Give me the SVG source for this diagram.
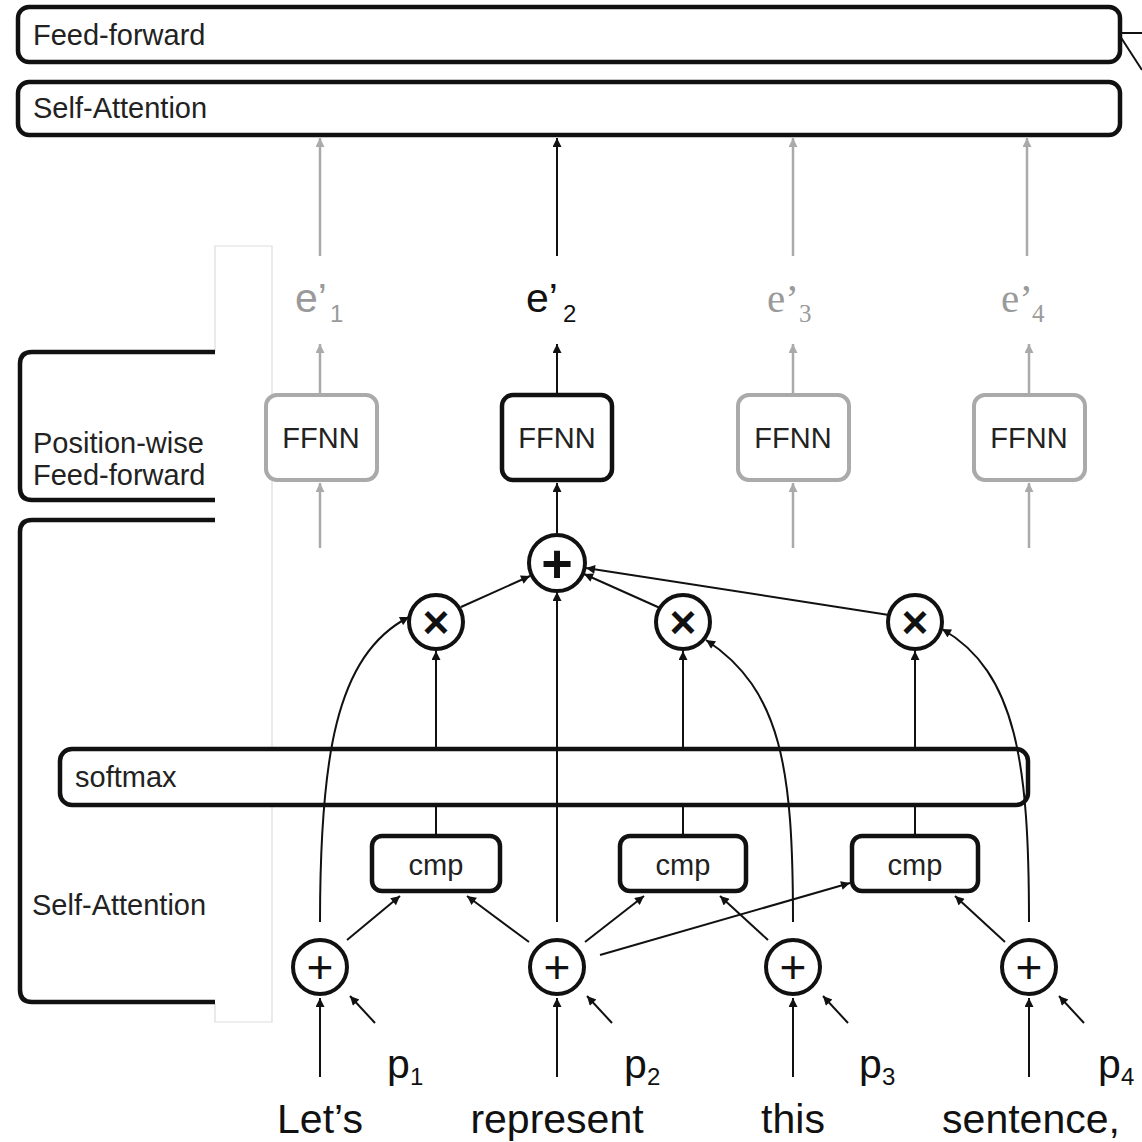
<svg xmlns="http://www.w3.org/2000/svg" width="1142" height="1142" viewBox="0 0 1142 1142">
<style>
.box{fill:#fff;stroke:#111;stroke-width:4.5}
.gbox{fill:#fff;stroke:#aaa;stroke-width:4}
.lbl{font-family:"Liberation Sans",Arial,sans-serif;font-size:29px;fill:#222}
.big{font-family:"Liberation Sans",Arial,sans-serif;font-size:41px;fill:#111}
.ser{font-family:"Liberation Serif","Times New Roman",serif}
.c{stroke:#111;stroke-width:2;fill:none}
.cg{stroke:#aaa;stroke-width:2.5;fill:none}
.op{fill:#fff;stroke:#111;stroke-width:4}
.sym{font-family:"Liberation Sans",Arial,sans-serif;fill:#111;text-anchor:middle;dominant-baseline:central}
.brk{fill:none;stroke:#111;stroke-width:4.5}
</style>
<defs>
<marker id="ah" viewBox="0 0 10 10" refX="10" refY="5" markerWidth="11" markerHeight="9" markerUnits="userSpaceOnUse" orient="auto"><path d="M0,0 L10,5 L0,10 z" fill="#111"/></marker>
<marker id="ahg" viewBox="0 0 10 10" refX="10" refY="5" markerWidth="11" markerHeight="9" markerUnits="userSpaceOnUse" orient="auto"><path d="M0,0 L10,5 L0,10 z" fill="#aaa"/></marker>
</defs>
<rect width="1142" height="1142" fill="#fff"/>

<!-- thin frame -->
<path d="M215 352 V246 H272 V749 M272 805 V1022 H215 V1004" fill="none" stroke="#ddd" stroke-width="1.2"/>

<!-- brackets -->
<g id="bracket-ffw">
<path class="brk" d="M215 352 H32 Q20 352 20 364 V488 Q20 500 32 500 H215"/>
<text class="lbl" x="33" y="453">Position-wise</text>
<text class="lbl" x="33" y="485">Feed-forward</text>
</g>
<g id="bracket-sa">
<path class="brk" d="M215 520 H32 Q20 520 20 532 V990 Q20 1002 32 1002 H215"/>
<text class="lbl" x="32" y="915">Self-Attention</text>
</g>

<g id="top-feedforward">
<rect class="box" x="18" y="7" width="1102" height="55" rx="11"/>
<text class="lbl" x="33" y="45">Feed-forward</text>
</g>
<g id="top-selfattention">
<rect class="box" x="18" y="82" width="1102" height="53" rx="11"/>
<text class="lbl" x="33" y="118">Self-Attention</text>
</g>

<g id="softmax"><rect class="box" x="60" y="749" width="968" height="56" rx="12" style="fill:none"/><text class="lbl" x="75" y="787">softmax</text></g>

<g id="connectors">
<path d="M1120 33 H1142 M1120 36 L1142 70" stroke="#111" stroke-width="2" fill="none"/>
<!-- gray columns -->
<line class="cg" x1="320" y1="256" x2="320" y2="138" marker-end="url(#ahg)"/>
<line class="cg" x1="793" y1="256" x2="793" y2="138" marker-end="url(#ahg)"/>
<line class="cg" x1="1027" y1="256" x2="1027" y2="138" marker-end="url(#ahg)"/>
<line class="cg" x1="320" y1="395" x2="320" y2="344" marker-end="url(#ahg)"/>
<line class="cg" x1="793" y1="395" x2="793" y2="344" marker-end="url(#ahg)"/>
<line class="cg" x1="1029" y1="395" x2="1029" y2="344" marker-end="url(#ahg)"/>
<line class="cg" x1="320" y1="548" x2="320" y2="483" marker-end="url(#ahg)"/>
<line class="cg" x1="793" y1="548" x2="793" y2="483" marker-end="url(#ahg)"/>
<line class="cg" x1="1029" y1="548" x2="1029" y2="483" marker-end="url(#ahg)"/>
<!-- black column -->
<line class="c" x1="557" y1="256" x2="557" y2="138" marker-end="url(#ah)"/>
<line class="c" x1="557" y1="395" x2="557" y2="344" marker-end="url(#ah)"/>
<line class="c" x1="557" y1="533" x2="557" y2="483" marker-end="url(#ah)"/>
<!-- into top plus -->
<line class="c" x1="461" y1="607" x2="530" y2="576" marker-end="url(#ah)"/>
<line class="c" x1="660" y1="608" x2="584" y2="574" marker-end="url(#ah)"/>
<line class="c" x1="889" y1="615" x2="586" y2="568" marker-end="url(#ah)"/>
<line class="c" x1="557" y1="922" x2="557" y2="592" marker-end="url(#ah)"/>
<!-- softmax to x -->
<line class="c" x1="436" y1="749" x2="436" y2="651" marker-end="url(#ah)"/>
<line class="c" x1="683" y1="749" x2="683" y2="651" marker-end="url(#ah)"/>
<line class="c" x1="915" y1="749" x2="915" y2="651" marker-end="url(#ah)"/>
<!-- cmp to softmax -->
<line class="c" x1="436" y1="836" x2="436" y2="806"/>
<line class="c" x1="683" y1="836" x2="683" y2="806"/>
<line class="c" x1="915" y1="836" x2="915" y2="806"/>
<!-- curves -->
<path class="c" d="M320 922 C320 760 335 655 409 617" marker-end="url(#ah)"/>
<path class="c" d="M793 922 C793 770 782 690 706 640" marker-end="url(#ah)"/>
<path class="c" d="M1029 922 C1029 765 1017 672 942 629" marker-end="url(#ah)"/>
<!-- into cmp -->
<line class="c" x1="347" y1="940" x2="400" y2="896" marker-end="url(#ah)"/>
<line class="c" x1="529" y1="942" x2="467" y2="896" marker-end="url(#ah)"/>
<line class="c" x1="585" y1="942" x2="644" y2="896" marker-end="url(#ah)"/>
<line class="c" x1="600" y1="955" x2="850" y2="883" marker-end="url(#ah)"/>
<line class="c" x1="768" y1="940" x2="720" y2="896" marker-end="url(#ah)"/>
<line class="c" x1="1005" y1="942" x2="955" y2="896" marker-end="url(#ah)"/>
<!-- inputs -->
<line class="c" x1="320" y1="1077" x2="320" y2="998" marker-end="url(#ah)"/>
<line class="c" x1="557" y1="1077" x2="557" y2="998" marker-end="url(#ah)"/>
<line class="c" x1="793" y1="1077" x2="793" y2="998" marker-end="url(#ah)"/>
<line class="c" x1="1029" y1="1077" x2="1029" y2="998" marker-end="url(#ah)"/>
<line class="c" x1="375" y1="1023" x2="350" y2="996" marker-end="url(#ah)"/>
<line class="c" x1="612" y1="1023" x2="587" y2="996" marker-end="url(#ah)"/>
<line class="c" x1="848" y1="1023" x2="823" y2="996" marker-end="url(#ah)"/>
<line class="c" x1="1084" y1="1023" x2="1059" y2="996" marker-end="url(#ah)"/>
</g>

<!-- e' labels -->
<g id="e1"><text class="big" x="295" y="312" style="fill:#9a9a9a">e’<tspan x="330" y="322" font-size="24">1</tspan></text></g>
<g id="e2"><text class="big" x="526" y="312">e’<tspan x="563" y="322" font-size="24">2</tspan></text></g>
<g id="e3"><text class="big ser" x="767" y="312" style="fill:#9a9a9a">e’<tspan x="799" y="322" font-size="25">3</tspan></text></g>
<g id="e4"><text class="big ser" x="1001" y="312" style="fill:#9a9a9a">e’<tspan x="1032" y="322" font-size="25">4</tspan></text></g>

<!-- FFNN -->
<g id="ffnn1"><rect class="gbox" x="266" y="395" width="111" height="85" rx="11"/><text class="lbl" x="321" y="448" text-anchor="middle">FFNN</text></g>
<g id="ffnn2"><rect class="box" x="502" y="395" width="110" height="85" rx="11"/><text class="lbl" x="557" y="448" text-anchor="middle">FFNN</text></g>
<g id="ffnn3"><rect class="gbox" x="738" y="395" width="111" height="85" rx="11"/><text class="lbl" x="793" y="448" text-anchor="middle">FFNN</text></g>
<g id="ffnn4"><rect class="gbox" x="974" y="395" width="111" height="85" rx="11"/><text class="lbl" x="1029" y="448" text-anchor="middle">FFNN</text></g>

<!-- operators -->
<g id="sum-top"><circle class="op" cx="557" cy="563" r="28"/><text class="sym" x="557" y="563" font-size="54" font-weight="bold">+</text></g>
<g id="mul1"><circle class="op" cx="436" cy="622" r="27"/><text class="sym" x="436" y="622" font-size="46" font-weight="bold">×</text></g>
<g id="mul2"><circle class="op" cx="683" cy="622" r="27"/><text class="sym" x="683" y="622" font-size="46" font-weight="bold">×</text></g>
<g id="mul3"><circle class="op" cx="915" cy="622" r="27"/><text class="sym" x="915" y="622" font-size="46" font-weight="bold">×</text></g>

<g id="cmp1"><rect class="box" x="372" y="836" width="128" height="55" rx="10"/><text class="lbl" x="436" y="875" text-anchor="middle" font-size="30">cmp</text></g>
<g id="cmp2"><rect class="box" x="620" y="836" width="126" height="55" rx="10"/><text class="lbl" x="683" y="875" text-anchor="middle" font-size="30">cmp</text></g>
<g id="cmp3"><rect class="box" x="852" y="836" width="126" height="55" rx="10"/><text class="lbl" x="915" y="875" text-anchor="middle" font-size="30">cmp</text></g>

<g id="add1"><circle class="op" cx="320" cy="967" r="27"/><text class="sym" x="320" y="967" font-size="46">+</text></g>
<g id="add2"><circle class="op" cx="557" cy="967" r="27"/><text class="sym" x="557" y="967" font-size="46">+</text></g>
<g id="add3"><circle class="op" cx="793" cy="967" r="27"/><text class="sym" x="793" y="967" font-size="46">+</text></g>
<g id="add4"><circle class="op" cx="1029" cy="967" r="27"/><text class="sym" x="1029" y="967" font-size="46">+</text></g>

<!-- positions -->
<g id="p1"><text class="big" x="387" y="1078" font-size="40">p<tspan x="410" y="1085" font-size="24">1</tspan></text></g>
<g id="p2"><text class="big" x="624" y="1078" font-size="40">p<tspan x="647" y="1085" font-size="24">2</tspan></text></g>
<g id="p3"><text class="big" x="859" y="1078" font-size="40">p<tspan x="882" y="1085" font-size="24">3</tspan></text></g>
<g id="p4"><text class="big" x="1098" y="1078" font-size="40">p<tspan x="1121" y="1085" font-size="24">4</tspan></text></g>

<!-- words -->
<g id="w1"><text class="big" x="320" y="1133" text-anchor="middle">Let’s</text></g>
<g id="w2"><text class="big" x="557" y="1133" text-anchor="middle">represent</text></g>
<g id="w3"><text class="big" x="793" y="1133" text-anchor="middle">this</text></g>
<g id="w4"><text class="big" x="1031" y="1133" text-anchor="middle">sentence,</text></g>
</svg>
